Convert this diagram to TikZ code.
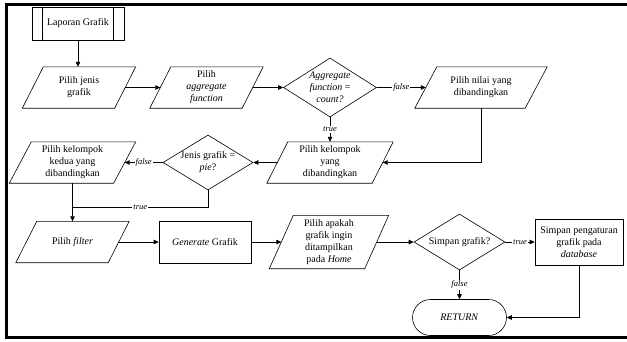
\documentclass[tikz,border=0pt]{standalone}
\usepackage{fontspec}
\setmainfont{Liberation Serif}
\usetikzlibrary{shapes.geometric,shapes.misc,arrows.meta}
\begin{document}
\begin{tikzpicture}[x=1pt,y=-1pt,
  every node/.style={font=\fontsize{10}{12}\selectfont, align=center, inner sep=0pt},
  line/.style={line width=0.6pt, draw=black},
  arr/.style={line, -{Triangle[length=5pt,width=4.5pt]}},
  iobox/.style={minimum width=#1, minimum height=41pt},
  procbox/.style={draw, line width=0.6pt, minimum width=92pt, minimum height=42pt},
  dec/.style={draw, diamond, line width=0.6pt},
  lbl/.style={font=\fontsize{8.5}{10}\selectfont\itshape, fill=white, inner sep=1pt}]
\useasboundingbox (0,0) rectangle (627,341);
% frame
\draw[line width=3pt] (632,4.5) -- (6,4.5) -- (6,337.5) -- (632,337.5);

% predefined process
\node[draw, line width=0.6pt, minimum width=92pt, minimum height=33pt] (lap) at (78,23.5) {Laporan Grafik};
\draw[line] ([xshift=11pt]lap.north west) -- ([xshift=11pt]lap.south west);
\draw[line] ([xshift=-11pt]lap.north east) -- ([xshift=-11pt]lap.south east);

% input/output boxes
\node[iobox=92pt] (pj) at (79,87.5) {Pilih jenis\\grafik};
\node[iobox=92pt] (pa) at (206.5,87.5) {Pilih\\\textit{aggregate}\\\textit{function}};
\node[iobox=110pt] (pn) at (481,87.5) {Pilih nilai yang\\dibandingkan};
\node[iobox=105pt] (pk) at (330,162.5) {Pilih kelompok\\yang\\dibandingkan};
\node[iobox=104pt] (pk2) at (72.5,162.5) {Pilih kelompok\\kedua yang\\dibandingkan};
\node[iobox=92pt] (pf) at (72.5,242) {Pilih \textit{filter}};
\node[iobox=95pt, minimum height=53pt] (ph) at (329,242) {Pilih apakah\\grafik ingin\\ditampilkan\\pada \textit{Home}};
\foreach \n/\s in {pj/10.5, pa/10.5, pn/11, pk/10.5, pk2/11, pf/10.5, ph/12}
  \draw[line] ([xshift=\s pt]\n.north west) -- ([xshift=\s pt]\n.north east)
    -- ([xshift=-\s pt]\n.south east) -- ([xshift=-\s pt]\n.south west) -- cycle;

% decisions
\node[dec, minimum width=93pt, minimum height=59pt] (d1) at (330,87.5) {};
\node (d1t) at (d1) {\textit{Aggregate}\\\textit{function} =\\\textit{count?}};
\node[dec, minimum width=90pt, minimum height=55pt] (d2) at (208,162.5) {};
\node (d2t) at (d2) {Jenis grafik =\\\textit{pie}?};
\node[dec, minimum width=91pt, minimum height=56pt] (d3) at (459.5,242) {};
\node (d3t) at (d3) {Simpan grafik?};

% processes
\node[procbox] (gen) at (205,242) {\textit{Generate} Grafik};
\node[procbox, minimum width=88pt, minimum height=46pt] (sp) at (579,242) {Simpan pengaturan\\grafik pada\\\textit{database}};
\node[draw, line width=0.6pt, rounded rectangle, minimum width=94pt, minimum height=36pt] (ret) at (459.5,317.5) {\textit{RETURN}};

% connectors
\draw[arr] (lap.south) -- (lap.south |- pj.north);
\draw[arr] (pj.east) -- (pa.west);
\draw[arr] (pa.east) -- (d1.west);
\draw[arr] (d1.east) -- node[lbl]{false} (pn.west);
\draw[arr] (d1.south) -- node[lbl]{true} (pk.north);
\draw[arr] (pn.south) |- (pk.east);
\draw[arr] (pk.west) -- (d2.east);
\draw[arr] (d2.west) -- node[lbl]{false} (pk2.east);
\draw[arr] (pk2.south) -- (pf.north);
\coordinate (tj) at (72.5,207);
\draw[line] (d2.south) |- node[lbl, pos=0.75]{true} (tj);
\draw[arr] (pf.east) -- (gen.west);
\draw[arr] (gen.east) -- (ph.west);
\draw[arr] (ph.east) -- (d3.west);
\draw[arr] (d3.east) -- node[lbl]{true} (sp.west);
\draw[arr] (d3.south) -- node[lbl]{false} (ret.north);
\draw[arr] (sp.south) |- (ret.east);
\end{tikzpicture}
\end{document}
